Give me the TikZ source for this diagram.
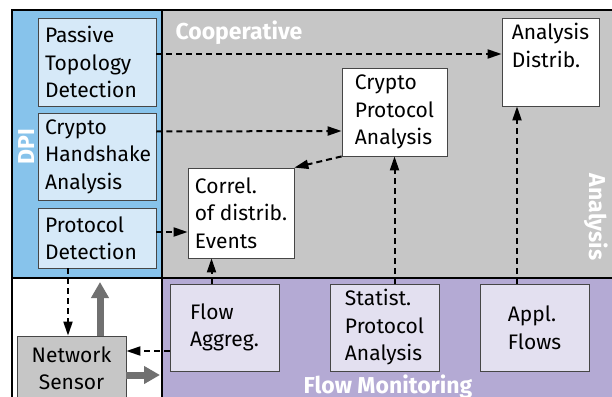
\documentclass[tikz,border=0pt]{standalone}
\usepackage{fontspec}
\setmainfont{Fira Sans}
\usetikzlibrary{arrows.meta}

\definecolor{dpiblue}{RGB}{135,195,235}
\definecolor{dpibox}{RGB}{214,233,248}
\definecolor{coopgray}{RGB}{198,198,198}
\definecolor{flowpurple}{RGB}{180,170,212}
\definecolor{flowbox}{RGB}{227,224,240}
\definecolor{boxline}{RGB}{70,70,70}
\definecolor{fatgray}{RGB}{112,112,112}

\begin{document}
\begin{tikzpicture}[x=1pt,y=-1pt,
    box/.style={draw=boxline,line width=0.8pt,inner sep=0pt,align=left,
      font=\fontsize{21}{27.5}\selectfont},
    dpi box/.style={box,fill=dpibox,text width=104pt,inner xsep=7pt,minimum width=118pt},
    coop box/.style={box,fill=white},
    flow box/.style={box,fill=flowbox,minimum width=109pt,minimum height=87pt},
    region/.style={white,font=\fontsize{23}{26}\selectfont\bfseries},
    dasharrow/.style={line width=2pt,dash pattern=on 6pt off 4pt,
      -{Triangle[length=14pt,width=9pt]}},
    fatarrow/.style={fatgray,line width=7pt,-{Triangle[length=16pt,width=17pt]}}]

    \useasboundingbox (0,0) rectangle (612,396);

    % regions
    \fill[dpiblue] (12,10) rectangle (162,278);
    \fill[coopgray] (162,10) rectangle (620,278);
    \fill[flowpurple] (162,278) rectangle (620,400);
    \fill[white] (12,278) rectangle (162,400);

    \draw[line width=2pt] (12,400) -- (12,10) -- (620,10);
    \draw[line width=2pt] (162,10) -- (162,400);
    \draw[line width=2pt] (12,278) -- (620,278);

    \node[region,anchor=base west] (coop) at (172,40) {Cooperative};
    \node[region,rotate=90] (dpi) at (27,147) {DPI};
    \node[region,rotate=-90] (ana) at (596,217) {Analysis};
    \node[region,anchor=base] (fm) at (388,393) {Flow Monitoring};

    % DPI boxes
    \node[dpi box,minimum height=88pt] (ptd) at (97,62) {Passive\\Topology\\Detection};
    \node[dpi box,minimum height=87pt] (chs) at (97,156.5) {Crypto\\Handshake\\Analysis};
    \node[dpi box,minimum height=60pt] (pd) at (97,238) {Protocol\\Detection};

    % cooperative boxes
    \node[coop box,minimum width=106pt,minimum height=90pt] (cor) at (241,213) {Correl.\\of distrib.\\Events};
    \node[coop box,minimum width=105pt,minimum height=88pt] (cpa) at (394.5,112) {Crypto\\Protocol\\Analysis};
    \node[coop box,minimum width=97pt,minimum height=88pt] (ad) at (550.5,62) {Analysis\\Distrib.\\[6pt]};

    % flow boxes
    \node[flow box] (fa) at (224.5,327.5) {Flow\\Aggreg.};
    \node[flow box] (spa) at (384.5,327.5) {Statist.\\Protocol\\Analysis};
    \node[flow box] (af) at (534.5,327.5) {Appl.\\Flows};

    \node[box,fill=coopgray,align=center,minimum width=109pt,minimum height=64pt] (ns) at (71.5,368) {Network\\Sensor};

    % free ends of the fat arrows
    \coordinate (dpiin) at (100,282) ;
    \coordinate (fmin) at (160,375) ;

    % dashed arrows
    \draw[dasharrow] ([yshift=8pt]ptd.east) -- ([yshift=8pt]ad.west);
    \draw[dasharrow] ([yshift=25pt]chs.east) -- ([yshift=-19pt]cpa.west);
    \draw[dasharrow] ([yshift=6pt]pd.east) -- ([yshift=-19pt]cor.west);
    \draw[dasharrow] (cpa.south west) -- (cor.north east);
    \draw[dasharrow] ([xshift=-13pt]fa.north) -- ([xshift=-13pt]fa.north |- cor.south);
    \draw[dasharrow] (spa.north -| cpa.south) -- (cpa.south);
    \draw[dasharrow] ([xshift=-17.5pt]af.north) -- ([xshift=-17.5pt]af.north |- ad.south);
    \draw[dasharrow] ([yshift=-23.5pt]fa.west) -- ([yshift=-23.5pt]fa.west -| ns.east);
    \draw[dasharrow] ([xshift=-29pt]pd.south) -- ([xshift=-29pt]pd.south |- ns.north);

    % fat arrows
    \draw[fatarrow] (ns.north -| dpiin) -- (dpiin);
    \draw[fatarrow] (ns.east |- fmin) -- (fmin);

\end{tikzpicture}
\end{document}
